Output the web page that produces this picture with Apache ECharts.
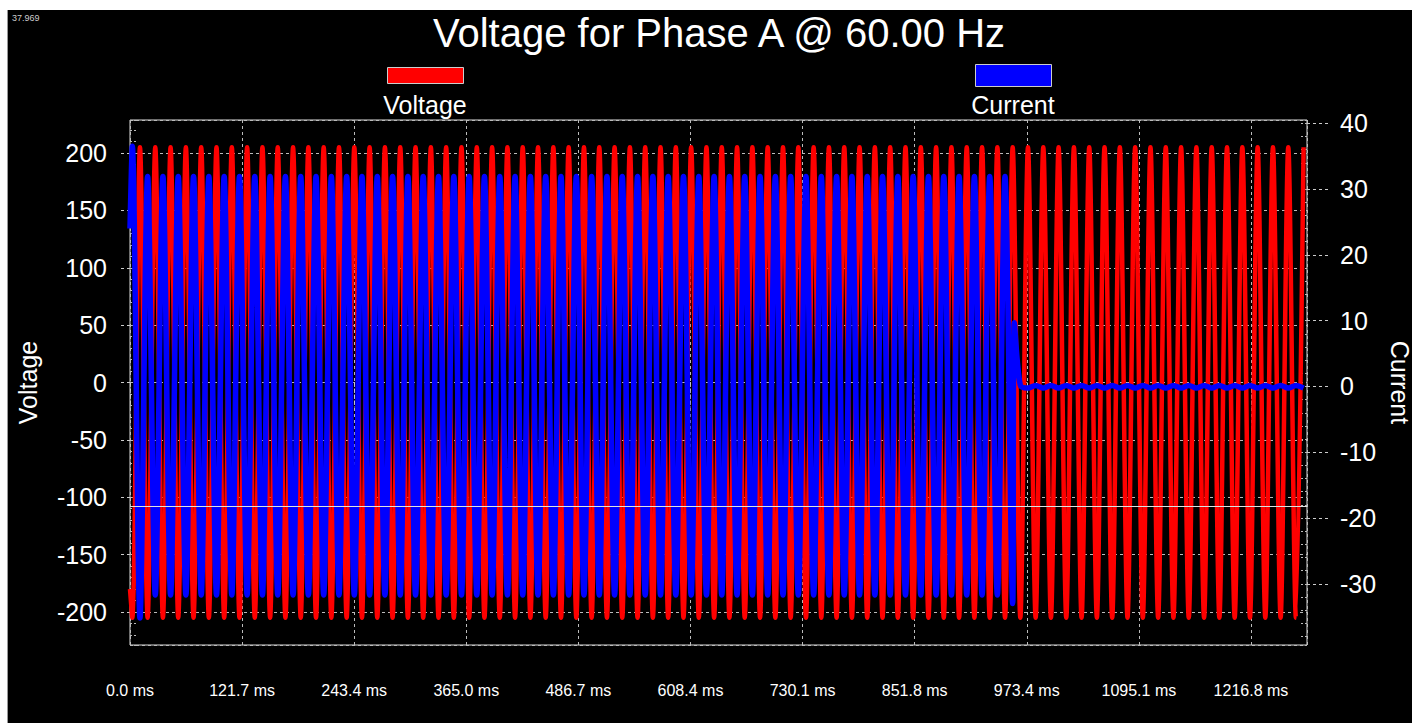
<!DOCTYPE html>
<html>
<head>
<meta charset="utf-8">
<title>Voltage for Phase A</title>
<script src="https://cdn.jsdelivr.net/npm/echarts@6/dist/echarts.min.js"></script>
<style>
  html, body { margin: 0; padding: 0; background: #fff; }
  #myChart { width: 1412px; height: 723px; }
</style>
</head>
<body>
<div id="myChart"></div>
<script>
// waveform extremes, one every half cycle (60 Hz record)
const halfCycleMs = 8.31;
const firstExtremeMs = 2.5;

const xTickLabels = ['0.0 ms', '121.7 ms', '243.4 ms', '365.0 ms', '486.7 ms', '608.4 ms',
  '730.1 ms', '851.8 ms', '973.4 ms', '1095.1 ms', '1216.8 ms'];

const voltageStart = -180;
const voltageExtremes = [
  -205, 205, -205, 205, -205, 205, -205, 205, -205, 205, -205, 205, -205, 205,
  -205, 205, -205, 205, -205, 205, -205, 205, -205, 205, -205, 205, -205, 205,
  -205, 205, -205, 205, -205, 205, -205, 205, -205, 205, -205, 205, -205, 205,
  -205, 205, -205, 205, -205, 205, -205, 205, -205, 205, -205, 205, -205, 205,
  -205, 205, -205, 205, -205, 205, -205, 205, -205, 205, -205, 205, -205, 205,
  -205, 205, -205, 205, -205, 205, -205, 205, -205, 205, -205, 205, -205, 205,
  -205, 205, -205, 205, -205, 205, -205, 205, -205, 205, -205, 205, -205, 205,
  -205, 205, -205, 205, -205, 205, -205, 205, -205, 205, -205, 205, -205, 205,
  -205, 205, -205, 205, -205, 205, -205, 205, -205, 205, -205, 205, -205, 205,
  -205, 205, -205, 205, -205, 205, -205, 205, -205, 205, -205, 205, -205, 205,
  -205, 205, -205, 205, -205, 205, -205, 205, -205, 205, -205, 205, -205, 205
];

const currentStart = 24;
const currentExtremes = [
  36.5, -35.2, 31.9, -31.7, 31.9, -31.7, 31.9, -31.7, 31.9, -31.7, 31.9, -31.7, 31.9, -31.7,
  31.9, -31.7, 31.9, -31.7, 31.9, -31.7, 31.9, -31.7, 31.9, -31.7, 31.9, -31.7, 31.9, -31.7,
  31.9, -31.7, 31.9, -31.7, 31.9, -31.7, 31.9, -31.7, 31.9, -31.7, 31.9, -31.7, 31.9, -31.7,
  31.9, -31.7, 31.9, -31.7, 31.9, -31.7, 31.9, -31.7, 31.9, -31.7, 31.9, -31.7, 31.9, -31.7,
  31.9, -31.7, 31.9, -31.7, 31.9, -31.7, 31.9, -31.7, 31.9, -31.7, 31.9, -31.7, 31.9, -31.7,
  31.9, -31.7, 31.9, -31.7, 31.9, -31.7, 31.9, -31.7, 31.9, -31.7, 31.9, -31.7, 31.9, -31.7,
  31.9, -31.7, 31.9, -31.7, 31.9, -31.7, 31.9, -31.7, 31.9, -31.7, 31.9, -31.7, 31.9, -31.7,
  31.9, -31.7, 31.9, -31.7, 31.9, -31.7, 31.9, -31.7, 31.9, -31.7, 31.9, -31.7, 31.9, -31.7,
  31.9, -31.7, 31.9, -33.0
];
// breaker opens: last half cycle cut short
const currentTrip = [[960.0, 9.7]];
const currentResidual = [
  0.15, -0.25, 0.15, -0.25, 0.15, -0.25, 0.15, -0.25, 0.15, -0.25,
  0.15, -0.25, 0.15, -0.25, 0.15, -0.25, 0.15, -0.25, 0.15, -0.25,
  0.15, -0.25, 0.15, -0.25, 0.15, -0.25, 0.15, -0.25, 0.15, -0.25,
  0.15, -0.25, 0.15, -0.25, 0.15, -0.25, 0.15, -0.25
];
const cursorVoltage = -107.6;

const extremeMs = i => firstExtremeMs + i * halfCycleMs;
const voltageData = [[0, voltageStart]].concat(voltageExtremes.map((v, i) => [extremeMs(i), v]));
const currentData = [[0, currentStart]]
  .concat(currentExtremes.map((v, i) => [extremeMs(i), v]))
  .concat(currentTrip)
  .concat(currentResidual.map((v, k) => [extremeMs(currentExtremes.length + k), v]));

const font = 'Liberation Sans, Arial, sans-serif';
const gridDash = { color: '#bbb', type: [3, 3], width: 1 };
const tickDash = { color: '#ccc', type: [3, 3] };

const myChart = echarts.init(document.getElementById('myChart'), null, { renderer: 'svg' });
const option = {
  backgroundColor: '#000',
  animation: false,
  textStyle: { fontFamily: font, color: '#fff' },
  title: {
    text: 'Voltage for Phase A @ 60.00 Hz',
    left: 433,
    top: 13,
    padding: 0,
    textStyle: { color: '#fff', fontSize: 40, fontWeight: 'normal', fontFamily: font }
  },
  // legend swatches sit above their names, names are drawn in graphic below
  legend: [
    {
      data: ['Voltage'], left: 387, top: 67, padding: 0, icon: 'rect',
      itemWidth: 76, itemHeight: 16, selectedMode: false, formatter: () => '',
      itemStyle: { borderColor: '#ccc', borderWidth: 1 }
    },
    {
      data: ['Current'], left: 975, top: 64, padding: 0, icon: 'rect',
      itemWidth: 76, itemHeight: 22, selectedMode: false, formatter: () => '',
      itemStyle: { borderColor: '#ccc', borderWidth: 1 }
    }
  ],
  grid: {
    left: 130, right: 105, top: 120, bottom: 78,
    outerBoundsMode: 'none', containLabel: false,
    show: true, borderColor: '#ddd', borderWidth: 1, backgroundColor: 'transparent'
  },
  xAxis: {
    type: 'value', min: 0, max: 1277.64, interval: 121.68,
    axisLine: { show: false },
    axisTick: { show: true, length: 25, lineStyle: tickDash },
    axisLabel: {
      color: '#fff', fontSize: 16, margin: 37, interval: 0, showMaxLabel: false,
      formatter: (v, i) => xTickLabels[i] || ''
    },
    splitLine: { show: true, lineStyle: gridDash }
  },
  yAxis: [
    {
      type: 'value', position: 'left', min: -228.8, max: 228.8, splitNumber: 9,
      name: 'Voltage', nameLocation: 'middle', nameGap: 90,
      nameTextStyle: { color: '#fff', fontSize: 25 },
      axisLine: { show: false },
      axisTick: { show: true, length: 11, lineStyle: tickDash },
      axisLabel: { color: '#fff', fontSize: 25, margin: 23, showMinLabel: false, showMaxLabel: false },
      splitLine: { show: true, lineStyle: gridDash }
    },
    {
      type: 'value', position: 'right', min: -39.3, max: 40.5, splitNumber: 8,
      name: 'Current', nameLocation: 'middle', nameGap: 77, nameRotate: -90,
      nameTextStyle: { color: '#fff', fontSize: 25 },
      axisLine: { show: false },
      axisTick: { show: true, length: 21, lineStyle: tickDash },
      axisLabel: { color: '#fff', fontSize: 25, margin: 33, showMinLabel: false, showMaxLabel: false },
      splitLine: { show: false }
    },
    {
      // minor ticks inside the left edge
      type: 'value', position: 'left', min: -228.8, max: 228.8, splitNumber: 45,
      axisLine: { show: false }, axisLabel: { show: false }, splitLine: { show: false },
      axisTick: { show: true, inside: true, length: 7, lineStyle: { color: '#bbb', type: [2, 2] } }
    },
    {
      // minor ticks inside the right edge
      type: 'value', position: 'right', min: -39.3, max: 40.5, splitNumber: 40,
      axisLine: { show: false }, axisLabel: { show: false }, splitLine: { show: false },
      axisTick: { show: true, inside: true, length: 7, lineStyle: { color: '#bbb', type: [2, 2] } }
    }
  ],
  series: [
    {
      name: 'Voltage', type: 'line', yAxisIndex: 0, data: voltageData,
      symbol: 'none', smooth: 0.3, z: 2,
      lineStyle: { color: '#ff0000', width: 4.5, join: 'round' },
      itemStyle: { color: '#ff0000' },
      markLine: {
        silent: true, symbol: 'none', label: { show: false },
        lineStyle: { color: '#e0e0e0', type: 'solid', width: 1 },
        data: [{ yAxis: cursorVoltage }]
      }
    },
    {
      name: 'Current', type: 'line', yAxisIndex: 1, data: currentData,
      symbol: 'none', smooth: 0.3, z: 3,
      lineStyle: { color: '#0000ff', width: 5.5, join: 'round' },
      itemStyle: { color: '#0000ff' }
    }
  ],
  graphic: [
    { type: 'rect', shape: { x: 0, y: 0, width: 1412, height: 10 }, style: { fill: '#fff' }, z: 100 },
    { type: 'rect', shape: { x: 0, y: 0, width: 7, height: 723 }, style: { fill: '#fff' }, z: 100 },
    { type: 'line', shape: { x1: 7.5, y1: 10, x2: 7.5, y2: 723 }, style: { stroke: '#999', lineWidth: 1 }, z: 100 },
    { type: 'text', x: 12, y: 13, style: { text: '37.969', fill: '#ccc', font: '9px Liberation Sans' }, z: 100 },
    {
      type: 'text', x: 425, y: 105, z: 100,
      style: { text: 'Voltage', fill: '#fff', font: '25px Liberation Sans', align: 'center', verticalAlign: 'middle' }
    },
    {
      type: 'text', x: 1013, y: 105, z: 100,
      style: { text: 'Current', fill: '#fff', font: '25px Liberation Sans', align: 'center', verticalAlign: 'middle' }
    }
  ]
};
myChart.setOption(option);
</script>
</body>
</html>
